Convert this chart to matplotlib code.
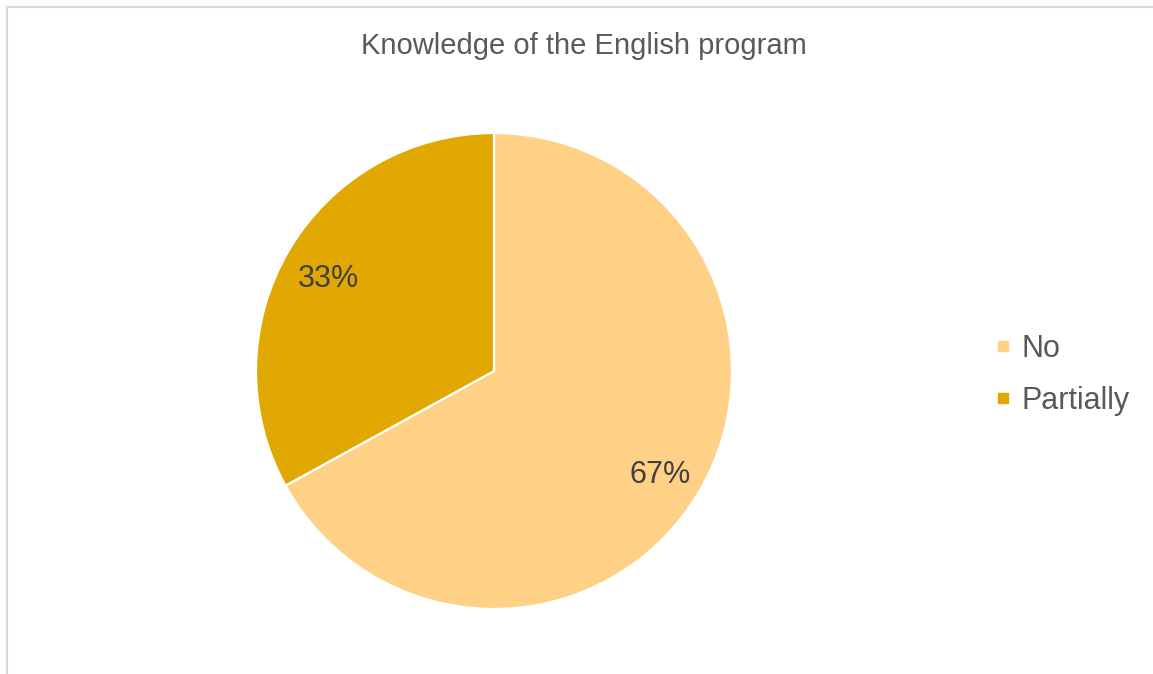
import matplotlib.pyplot as plt
from matplotlib.lines import Line2D

# answer shares
labels = ["No", "Partially"]
shares = [67, 33]
colors = ["#FFD186", "#E0A800"]
title = "Knowledge of the English program"

W, H = 1153, 674
plt.rcParams["font.family"] = ["Liberation Sans", "DejaVu Sans"]

fig = plt.figure(figsize=(W / 100, H / 100), dpi=100)
fig.patch.set_facecolor("white")

# chart area border (left and top edges)
fig.add_artist(Line2D([7 / W, 7 / W], [0, 1 - 7 / H], color="#D9D9D9", lw=1.5))
fig.add_artist(Line2D([7 / W, 1], [1 - 7 / H, 1 - 7 / H], color="#D9D9D9", lw=1.5))

# pie axes: centre (494, 371) px, radius 238 px
cx, cy, r = 494, 371, 238
ax = fig.add_axes([(cx - r) / W, (H - cy - r) / H, 2 * r / W, 2 * r / H])
wedges, texts, autotexts = ax.pie(
    shares, colors=colors, startangle=90, counterclock=False,
    autopct=lambda p: f"{p:.0f}%", pctdistance=0.81, radius=1,
    wedgeprops=dict(edgecolor="white", linewidth=1.6),
    textprops=dict(color="#404040", fontsize=22))
for t in autotexts:
    x, y = t.get_position()
    t.set_position((x, y - 0.026))
ax.set_xlim(-1, 1)
ax.set_ylim(-1, 1)
ax.set_aspect("equal")
ax.axis("off")

fig.text(584 / W, 1 - 46 / H, title, ha="center", va="center",
         fontsize=21, color="#595959")

handles = [Line2D([], [], marker="s", ls="", markersize=7, color=c) for c in colors]
fig.legend(handles, labels, loc="center left", bbox_to_anchor=(982 / W, 1 - 375 / H),
           frameon=False, handlelength=0.6, handletextpad=0.3, labelspacing=0.72,
           borderaxespad=0, prop=dict(size=22), labelcolor="#595959")

fig.savefig("out.png", dpi=100)
